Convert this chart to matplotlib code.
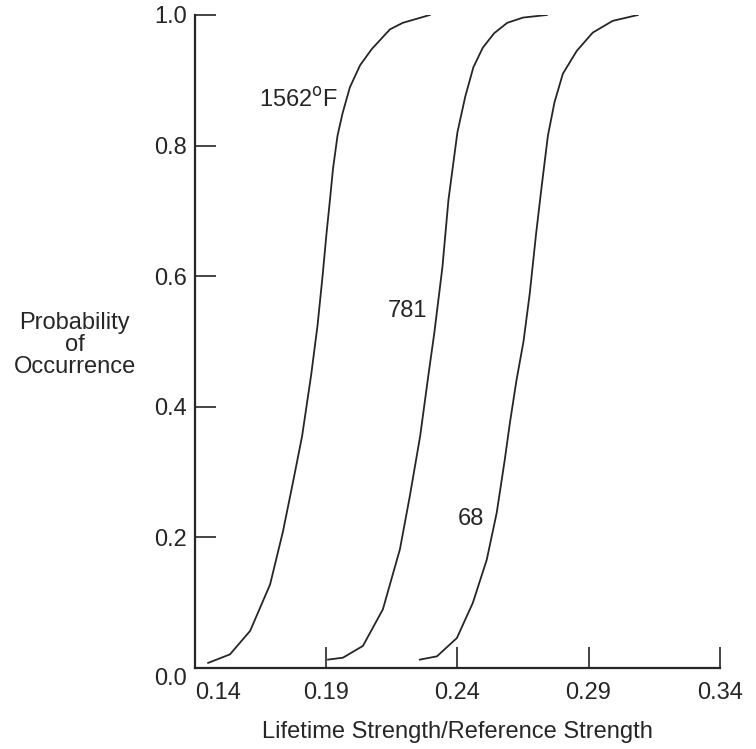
import matplotlib
matplotlib.use("Agg")
import matplotlib.pyplot as plt

# curve readings (strength ratio, probability of occurrence)
x_1562 = [0.1450, 0.1533, 0.1610, 0.1686, 0.1735, 0.1773, 0.1808, 0.1843, 0.1867,
          0.1886, 0.1901, 0.1913, 0.1926, 0.1943, 0.1962, 0.1990, 0.2029, 0.2074,
          0.2143, 0.2192, 0.2295]
y_1562 = [0.008, 0.021, 0.057, 0.128, 0.209, 0.284, 0.355, 0.450, 0.525,
          0.600, 0.665, 0.712, 0.765, 0.815, 0.849, 0.889, 0.923, 0.948,
          0.978, 0.988, 1.000]

x_781 = [0.1907, 0.1964, 0.2040, 0.2116, 0.2181, 0.2219, 0.2258, 0.2290, 0.2312,
         0.2343, 0.2366, 0.2400, 0.2430, 0.2461, 0.2497, 0.2540, 0.2590, 0.2650,
         0.2741]
y_781 = [0.013, 0.016, 0.034, 0.090, 0.182, 0.264, 0.355, 0.450, 0.513,
         0.614, 0.717, 0.820, 0.875, 0.920, 0.950, 0.972, 0.988, 0.996,
         1.000]

x_68 = [0.2257, 0.2322, 0.2398, 0.2459, 0.2512, 0.2550, 0.2581, 0.2600, 0.2625,
        0.2652, 0.2676, 0.2700, 0.2722, 0.2745, 0.2770, 0.2802, 0.2855, 0.2916,
        0.2992, 0.3088]
y_68 = [0.013, 0.018, 0.046, 0.100, 0.166, 0.238, 0.320, 0.375, 0.440,
        0.500, 0.574, 0.665, 0.740, 0.815, 0.866, 0.910, 0.945, 0.973,
        0.991, 1.000]

curve_labels = ['1562$^\\mathrm{o}$F', '781', '68']
label_pos = [(0.1795, 0.87), (0.2211, 0.547), (0.2452, 0.229)]

xticks = [0.14, 0.19, 0.24, 0.29, 0.34]
xtick_labels = ['0.14', '0.19', '0.24', '0.29', '0.34']
yticks = [0.0, 0.2, 0.4, 0.6, 0.8, 1.0]
ytick_labels = ['0.0', '0.2', '0.4', '0.6', '0.8', '1.0']

plt.rcParams['font.family'] = ['Liberation Sans', 'DejaVu Sans']
ink = '#262626'
fs = 17

fig = plt.figure(figsize=(7.56, 7.49), dpi=100)
ax = fig.add_axes([0.258, 0.108, 0.694, 0.872])

for xs, ys in [(x_1562, y_1562), (x_781, y_781), (x_68, y_68)]:
    ax.plot(xs, ys, color=ink, lw=1.3, solid_joinstyle='round')

for lab, (tx, ty) in zip(curve_labels, label_pos):
    ax.text(tx, ty, lab, fontsize=fs, color=ink, ha='center', va='center')

ax.set_xlim(0.14, 0.34)
ax.set_ylim(0.0, 1.0)
for s in ['top', 'right']:
    ax.spines[s].set_visible(False)
for s in ['left', 'bottom']:
    ax.spines[s].set_linewidth(1.6)
    ax.spines[s].set_color(ink)

ax.set_xticks(xticks)
ax.set_xticklabels(xtick_labels)
ax.set_yticks(yticks)
ax.set_yticklabels(ytick_labels)
ax.tick_params(direction='in', length=15, width=1.2, color=ink,
               labelsize=fs, labelcolor=ink)
ax.tick_params(axis='x', pad=10)
ax.tick_params(axis='y', pad=6)
ax.xaxis.get_major_ticks()[0].tick1line.set_visible(False)
ax.yaxis.get_major_ticks()[0].tick1line.set_visible(False)
ax.get_xticklabels()[0].set_ha('left')
ax.get_yticklabels()[0].set_va('top')

ax.set_xlabel('Lifetime Strength/Reference Strength', fontsize=fs,
              color=ink, va='center')
ax.xaxis.set_label_coords(0.5, -0.098)
ax.set_ylabel('Probability\nof\nOccurrence', fontsize=fs, color=ink,
              rotation=0, ha='center', va='center', linespacing=1.0)
ax.yaxis.set_label_coords(-0.229, 0.495)

fig.savefig('out.png', dpi=100)
